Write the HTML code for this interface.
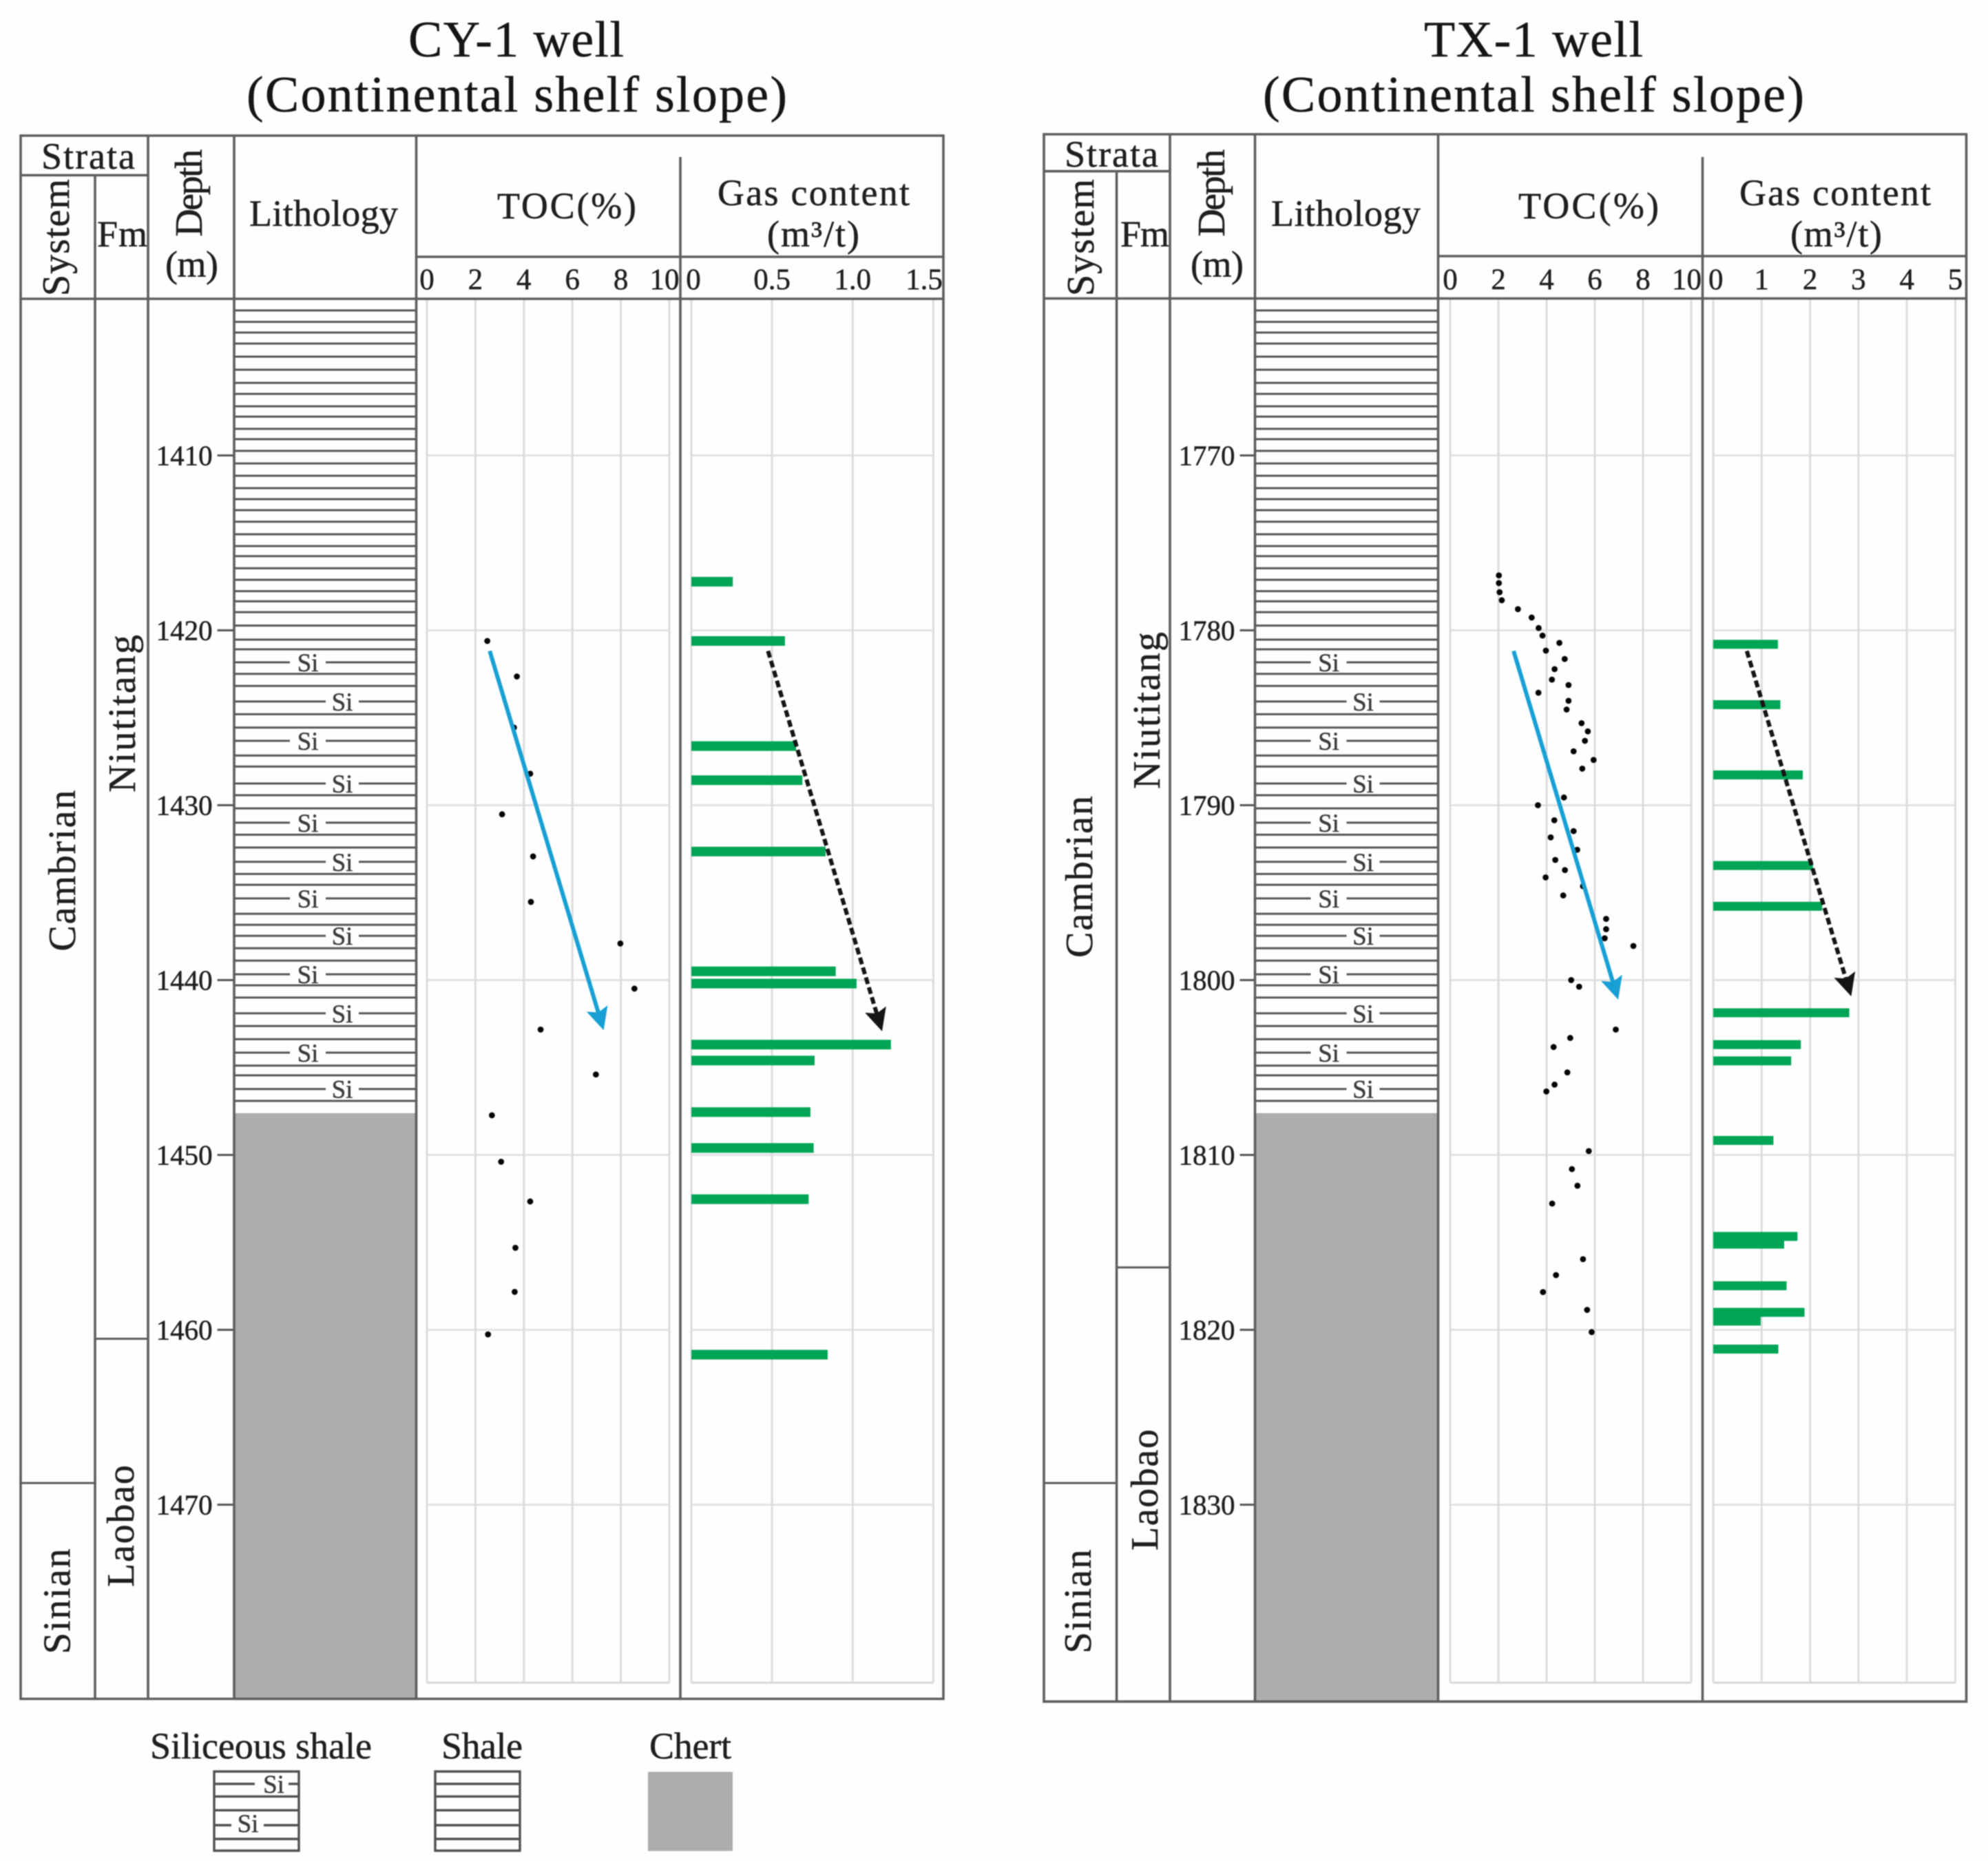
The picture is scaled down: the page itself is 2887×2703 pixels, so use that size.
<!DOCTYPE html>
<html lang="en">
<head>
<meta charset="utf-8">
<title>CY-1 and TX-1 well logs</title>
<style>
html,body{margin:0;padding:0;background:#fff}
svg{display:block;filter:blur(0.8px)}
text{font-family:"Liberation Serif",serif;fill:#1f1f1f;stroke:#1f1f1f;stroke-width:0.5px}
.frame{fill:none;stroke:#5e5e5e;stroke-width:3.6}
.title{font-size:74px;fill:#151515}
.hd{font-size:54px}
.rot{font-size:56px}
.leg{font-size:54px}
.si{font-size:37px;fill:#3c3c3c;stroke:#3c3c3c}
</style>
</head>
<body>
<svg id="chart" xmlns="http://www.w3.org/2000/svg" width="2887" height="2703" viewBox="0 0 2887 2703">
<rect width="2887" height="2703" fill="#fefefe"/>

<g id="cy">
  <text class="title" x="593" y="82" textLength="313">CY-1 well</text>
  <text class="title" x="358" y="162" textLength="785">(Continental shelf slope)</text>
  <g id="cy-marks"></g>
  <path class="frame" d="M30 197H1370V2467.5H30Z M30 254.5H215 M30 434H1370 M604.5 373H1370 M138 254.5V2467.5 M215 197V2467.5 M340 197V2467.5 M604.5 197V2467.5 M988 228V2467.5"/>
  <text class="hd" x="60" y="245" textLength="136">Strata</text>
  <text class="rot" transform="translate(100 430) rotate(-90)" textLength="170">System</text>
  <text class="hd" x="141" y="358" textLength="73">Fm</text>
  <text class="rot" transform="translate(293 343.8) rotate(-90)" textLength="127">Depth</text>
  <text class="hd" x="240" y="402" textLength="77">(m)</text>
  <text class="hd" x="362" y="328" textLength="216">Lithology</text>
  <text class="hd" x="722" y="317" textLength="202">TOC(%)</text>
  <text class="hd" x="1042" y="298" textLength="279">Gas content</text>
  <text class="hd" x="1114" y="358" textLength="134">(m³/t)</text>
  <text class="rot" transform="translate(109 1381.6) rotate(-90)" textLength="234">Cambrian</text>
  <text class="rot" transform="translate(101.5 2402.4) rotate(-90)" textLength="153">Sinian</text>
  <text class="rot" transform="translate(196 1151) rotate(-90)" textLength="229">Niutitang</text>
  <text class="rot" transform="translate(194 2305) rotate(-90)" textLength="177">Laobao</text>
</g>

<g id="tx">
  <text class="title" x="2068" y="82" textLength="318">TX-1 well</text>
  <text class="title" x="1834" y="162" textLength="786">(Continental shelf slope)</text>
  <g id="tx-marks"></g>
  <path class="frame" d="M1516 195H2855.5V2471.4H1516Z M1516 248.7H1699 M1516 433.5H2855.5 M2088.5 372H2855.5 M1621.6 248.7V2471.4 M1699 195V2471.4 M1822.5 195V2471.4 M2088.5 195V2471.4 M2472.5 228V2471.4"/>
  <text class="hd" x="1546" y="242" textLength="136">Strata</text>
  <text class="rot" transform="translate(1588 430) rotate(-90)" textLength="170">System</text>
  <text class="hd" x="1627" y="358" textLength="71">Fm</text>
  <text class="rot" transform="translate(1778 343.8) rotate(-90)" textLength="127">Depth</text>
  <text class="hd" x="1729" y="402" textLength="77">(m)</text>
  <text class="hd" x="1846" y="328" textLength="217">Lithology</text>
  <text class="hd" x="2205" y="317" textLength="204">TOC(%)</text>
  <text class="hd" x="2526" y="298" textLength="278">Gas content</text>
  <text class="hd" x="2600" y="358" textLength="133">(m³/t)</text>
  <text class="rot" transform="translate(1586 1391) rotate(-90)" textLength="235">Cambrian</text>
  <text class="rot" transform="translate(1584 2401.5) rotate(-90)" textLength="151">Sinian</text>
  <text class="rot" transform="translate(1684 1146) rotate(-90)" textLength="228">Niutitang</text>
  <text class="rot" transform="translate(1681 2252) rotate(-90)" textLength="176">Laobao</text>
</g>

<g id="legend">
  <text class="leg" x="218" y="2554" textLength="322">Siliceous shale</text>
  <text class="leg" x="641" y="2554" textLength="118">Shale</text>
  <text class="leg" x="943" y="2554" textLength="119">Chert</text>
  <path fill="none" stroke="#505050" stroke-width="3.4" d="M311 2573H434V2688H311Z M311 2591H370 M419 2591H434 M311 2609.3H434 M311 2629.3H434 M311 2651H336 M383 2651H434 M311 2671H434"/>
  <text class="si" x="397.5" y="2604" text-anchor="middle">Si</text>
  <text class="si" x="360" y="2661" text-anchor="middle">Si</text>
  <path fill="none" stroke="#505050" stroke-width="3.4" d="M632 2573H755V2688H632Z M632 2591H755 M632 2609.3H755 M632 2629.3H755 M632 2651H755 M632 2671H755"/>
  <rect x="941" y="2573.5" width="123" height="115" fill="#acadaf"/>
</g>
</svg>

<script>
// ---- shared lithology pattern, metres below the first depth tick ----
const shaleBeds = [-8.29,-7.64,-7.03,-6.40,-5.65,-4.90,-4.15,-3.52,-2.81,-2.22,-1.52,-0.93,-0.26,0.46,1.16,1.87,2.50,3.13,3.79,4.51,5.18,5.76,6.45,7.11,7.76,8.34,8.96,9.73,10.53,11.09,12.49,13.18,14.80,15.56,17.16,17.79,19.43,20.18,21.69,22.42,23.93,24.55,26.21,26.84,28.18,28.89,30.30,31.00,32.63,33.38,34.89,35.45,36.91];
const siliceousBeds = [11.83,14.07,16.32,18.76,21.00,23.24,25.33,27.47,29.67,31.90,34.15,36.23];
const chertTop = 37.61;

// ---- axis ticks ----
const tocTicks = [0,2,4,6,8,10];
const cyDepthTicks = [1410,1420,1430,1440,1450,1460,1470];
const txDepthTicks = [1770,1780,1790,1800,1810,1820,1830];
const cyGasTicks = [0,0.5,1,1.5];
const cyGasTickLabels = ["0","0.5","1.0","1.5"];
const txGasTicks = [0,1,2,3,4,5];
const txGasTickLabels = ["0","1","2","3","4","5"];

// ---- CY-1 data ----
const cyTocDepth = [1420.61,1422.64,1425.56,1428.2,1430.52,1432.93,1435.53,1437.91,1440.49,1442.83,1445.4,1447.73,1450.39,1452.66,1455.31,1457.83,1460.26];
const cyTocValue = [2.49,3.71,3.59,4.26,3.10,4.38,4.29,7.98,8.56,4.69,6.97,2.68,3.06,4.26,3.65,3.62,2.52];
const cyGasDepth = [1417.22,1420.61,1426.62,1428.57,1432.65,1439.5,1440.2,1443.69,1444.6,1447.55,1449.6,1452.53,1461.42];
const cyGasValue = [0.257,0.58,0.649,0.688,0.832,0.895,1.024,1.237,0.764,0.738,0.758,0.727,0.845];
const cyTocTrend = [2.59,1421.18,7.29,1442.87];
const cyGasTrend = [0.475,1421.18,1.182,1442.93];
const cySystemBoundary = 1468.76;
const cyFormationBoundary = 1460.51;

// ---- TX-1 data ----
const txTocDepth = [1776.86,1777.30,1777.82,1778.28,1778.79,1779.27,1779.87,1780.30,1780.72,1781.16,1781.64,1782.22,1782.82,1783.13,1783.57,1784.03,1784.53,1785.31,1785.78,1786.32,1786.92,1787.41,1787.91,1789.56,1790.0,1790.86,1791.48,1791.84,1792.55,1793.13,1793.71,1794.13,1794.63,1795.16,1796.5,1797.09,1797.61,1798.05,1800.0,1800.38,1802.83,1803.31,1803.83,1805.28,1805.98,1806.37,1809.78,1810.81,1811.76,1812.78,1815.96,1816.87,1817.84,1818.86,1820.13];
const txTocValue = [2.02,2.02,2.05,2.14,2.81,3.38,3.67,3.83,4.53,3.97,4.75,4.33,4.22,4.91,3.66,4.91,4.83,5.45,5.71,5.59,5.12,5.95,5.48,4.72,3.64,4.32,5.12,4.17,5.27,4.36,4.76,3.96,5.51,4.69,6.47,6.47,6.41,7.6,5.02,5.35,6.87,4.98,4.29,4.86,4.33,3.99,5.75,5.05,5.28,4.23,5.51,4.39,3.85,5.68,5.87];
const txGasDepth = [1780.8,1784.25,1788.27,1793.45,1795.78,1801.87,1803.69,1804.62,1809.17,1814.66,1815.1,1817.48,1819.0,1819.5,1821.1];
const txGasValue = [1.336,1.386,1.85,2.06,2.25,2.81,1.81,1.61,1.243,1.74,1.465,1.515,1.886,0.98,1.345];
const txTocTrend = [2.63,1781.18,6.97,1801.12];
const txGasTrend = [0.693,1781.18,2.85,1800.93];
const txSystemBoundary = 1828.76;
const txFormationBoundary = 1816.43;

const NS = "http://www.w3.org/2000/svg";
function mk(parent, tag, attrs, txt) {
  const el = document.createElementNS(NS, tag);
  for (const k in attrs) el.setAttribute(k, attrs[k]);
  if (txt !== undefined) el.textContent = txt;
  parent.appendChild(el);
  return el;
}

function drawArrow(g, trend, xs, ys, color, dashed, label) {
  const x1 = xs(trend[0]), y1 = ys(trend[1]), x2 = xs(trend[2]), y2 = ys(trend[3]);
  const len = Math.hypot(x2 - x1, y2 - y1);
  const ux = (x2 - x1) / len, uy = (y2 - y1) / len;
  const nx = -uy, ny = ux;
  const bx = x2 - ux * 33, by = y2 - uy * 33;
  const mx = x2 - ux * 27, my = y2 - uy * 27;
  const line = mk(g, "line", {x1: x1, y1: y1, x2: mx, y2: my, stroke: color, "stroke-width": 6});
  if (dashed) line.setAttribute("stroke-dasharray", "10 5");
  
  
  const pts = [[x2, y2], [bx + nx * 16, by + ny * 16], [mx, my], [bx - nx * 16, by - ny * 16]];
  const head = mk(g, "polygon", {points: pts.map(p => p.join(",")).join(" "), fill: color});
  
  
}

function drawWell(c) {
  const g = document.getElementById(c.id);
  const ys = d => 661.5 + (d - c.depthTicks[0]) * 25.4;
  const xToc = v => c.tocX0 + v * c.tocK;
  const xGas = v => c.gasX0 + v * c.gasK;
  const rel = r => ys(c.depthTicks[0] + r);
  const plotTop = 433, plotBottom = 2444;

  // chert
  const chert = mk(g, "rect", {x: c.lithL, y: rel(chertTop), width: c.lithR - c.lithL, height: c.frameBottom - rel(chertTop), fill: "#acadaf"});
  
  

  // shale pattern
  shaleBeds.forEach(r => {
    const l = mk(g, "line", {x1: c.lithL, x2: c.lithR, y1: rel(r), y2: rel(r), stroke: "#565656", "stroke-width": 3});
    
    
  });

  // siliceous beds
  siliceousBeds.forEach((r, i) => {
    const y = rel(r);
    const a = i % 2 === 0 ? c.lithL + 81 : c.lithL + 133;
    const b = i % 2 === 0 ? c.lithL + 133 : c.lithL + 181;
    const l1 = mk(g, "line", {x1: c.lithL, x2: a, y1: y, y2: y, stroke: "#565656", "stroke-width": 3});
    
    
    const l2 = mk(g, "line", {x1: b, x2: c.lithR, y1: y, y2: y, stroke: "#565656", "stroke-width": 3});
    
    
    const t = mk(g, "text", {x: (a + b) / 2, y: y + 13, "text-anchor": "middle", class: "si"}, "Si");
    
    
  });

  // depth ticks and horizontal grid
  c.depthTicks.forEach(d => {
    const y = ys(d);
    const tick = mk(g, "line", {x1: c.tickL, x2: c.lithL, y1: y, y2: y, stroke: "#555", "stroke-width": 3});
    
    
    const lab = mk(g, "text", {x: c.tickL - 7, y: y + 14, "text-anchor": "end", style: "font-size:41px"}, String(d));
    
    
    const g1 = mk(g, "line", {x1: xToc(0), x2: xToc(10), y1: y, y2: y, stroke: "#e2e2e2", "stroke-width": 3});
    
    
    const g2 = mk(g, "line", {x1: xGas(0), x2: xGas(c.gasTicks[c.gasTicks.length - 1]), y1: y, y2: y, stroke: "#e2e2e2", "stroke-width": 3});
    
    
  });

  // TOC axis
  tocTicks.forEach(v => {
    const x = xToc(v);
    const l = mk(g, "line", {x1: x, x2: x, y1: plotTop, y2: plotBottom, stroke: "#dcdcdc", "stroke-width": 3});
    
    
    const t = mk(g, "text", {x: Math.min(x, c.tocLabelMax), y: 420, "text-anchor": "middle", style: "font-size:43px"}, String(v));
    
    
  });
  const b1 = mk(g, "line", {x1: xToc(0), x2: xToc(10), y1: plotBottom, y2: plotBottom, stroke: "#d8d8d8", "stroke-width": 3});
  
  

  // gas axis
  c.gasTicks.forEach((v, i) => {
    const x = xGas(v);
    const l = mk(g, "line", {x1: x, x2: x, y1: plotTop, y2: plotBottom, stroke: "#dcdcdc", "stroke-width": 3});
    
    
    const lx = Math.max(c.gasLabelMin, Math.min(x, c.gasLabelMax));
    const t = mk(g, "text", {x: lx, y: 420, "text-anchor": "middle", style: "font-size:43px"}, c.gasLabels[i]);
    
    
  });
  const b2 = mk(g, "line", {x1: xGas(0), x2: xGas(c.gasTicks[c.gasTicks.length - 1]), y1: plotBottom, y2: plotBottom, stroke: "#d8d8d8", "stroke-width": 3});
  
  

  // strata boundaries
  const sb = mk(g, "line", {x1: c.frameL, x2: c.col1, y1: ys(c.systemBoundary), y2: ys(c.systemBoundary), stroke: "#5c5c5c", "stroke-width": 3});
  
  
  const fb = mk(g, "line", {x1: c.col1, x2: c.col2, y1: ys(c.formationBoundary), y2: ys(c.formationBoundary), stroke: "#5c5c5c", "stroke-width": 3});
  
  

  // gas bars
  c.gasDepth.forEach((d, i) => {
    const bar = mk(g, "rect", {x: xGas(0), y: ys(d) - c.barH / 2, width: xGas(c.gasValue[i]) - xGas(0), height: c.barH, fill: "#02a556"});
    
    
  });

  // TOC points
  c.tocDepth.forEach((d, i) => {
    const dot = mk(g, "circle", {cx: xToc(c.tocValue[i]), cy: ys(d), r: 4.4, fill: "#050505"});
    
    
  });

  // trend arrows
  drawArrow(g, c.tocTrend, xToc, ys, "#18a0d4", false, "toc-trend-arrow");
  drawArrow(g, c.gasTrend, xGas, ys, "#151515", true, "gas-trend-arrow");
}

drawWell({
  id: "cy-marks", depthTicks: cyDepthTicks, gasTicks: cyGasTicks, gasLabels: cyGasTickLabels,
  tocDepth: cyTocDepth, tocValue: cyTocValue, gasDepth: cyGasDepth, gasValue: cyGasValue,
  tocTrend: cyTocTrend, gasTrend: cyGasTrend,
  systemBoundary: cySystemBoundary, formationBoundary: cyFormationBoundary,
  tocX0: 620, tocK: 35.2, gasX0: 1004, gasK: 234.3,
  lithL: 340, lithR: 604.5, tickL: 315.6, frameL: 30, col1: 138, col2: 215, frameBottom: 2467.5,
  tocLabelMax: 965, gasLabelMin: 1007, gasLabelMax: 1342, barH: 14
});
drawWell({
  id: "tx-marks", depthTicks: txDepthTicks, gasTicks: txGasTicks, gasLabels: txGasTickLabels,
  tocDepth: txTocDepth, tocValue: txTocValue, gasDepth: txGasDepth, gasValue: txGasValue,
  tocTrend: txTocTrend, gasTrend: txGasTrend,
  systemBoundary: txSystemBoundary, formationBoundary: txFormationBoundary,
  tocX0: 2106, tocK: 35, gasX0: 2488, gasK: 70.3,
  lithL: 1822.5, lithR: 2088.5, tickL: 1800.5, frameL: 1516, col1: 1621.6, col2: 1699, frameBottom: 2471.4,
  tocLabelMax: 2449.5, gasLabelMin: 2491.7, gasLabelMax: 2842.7, barH: 13
});
</script>
</body>
</html>
